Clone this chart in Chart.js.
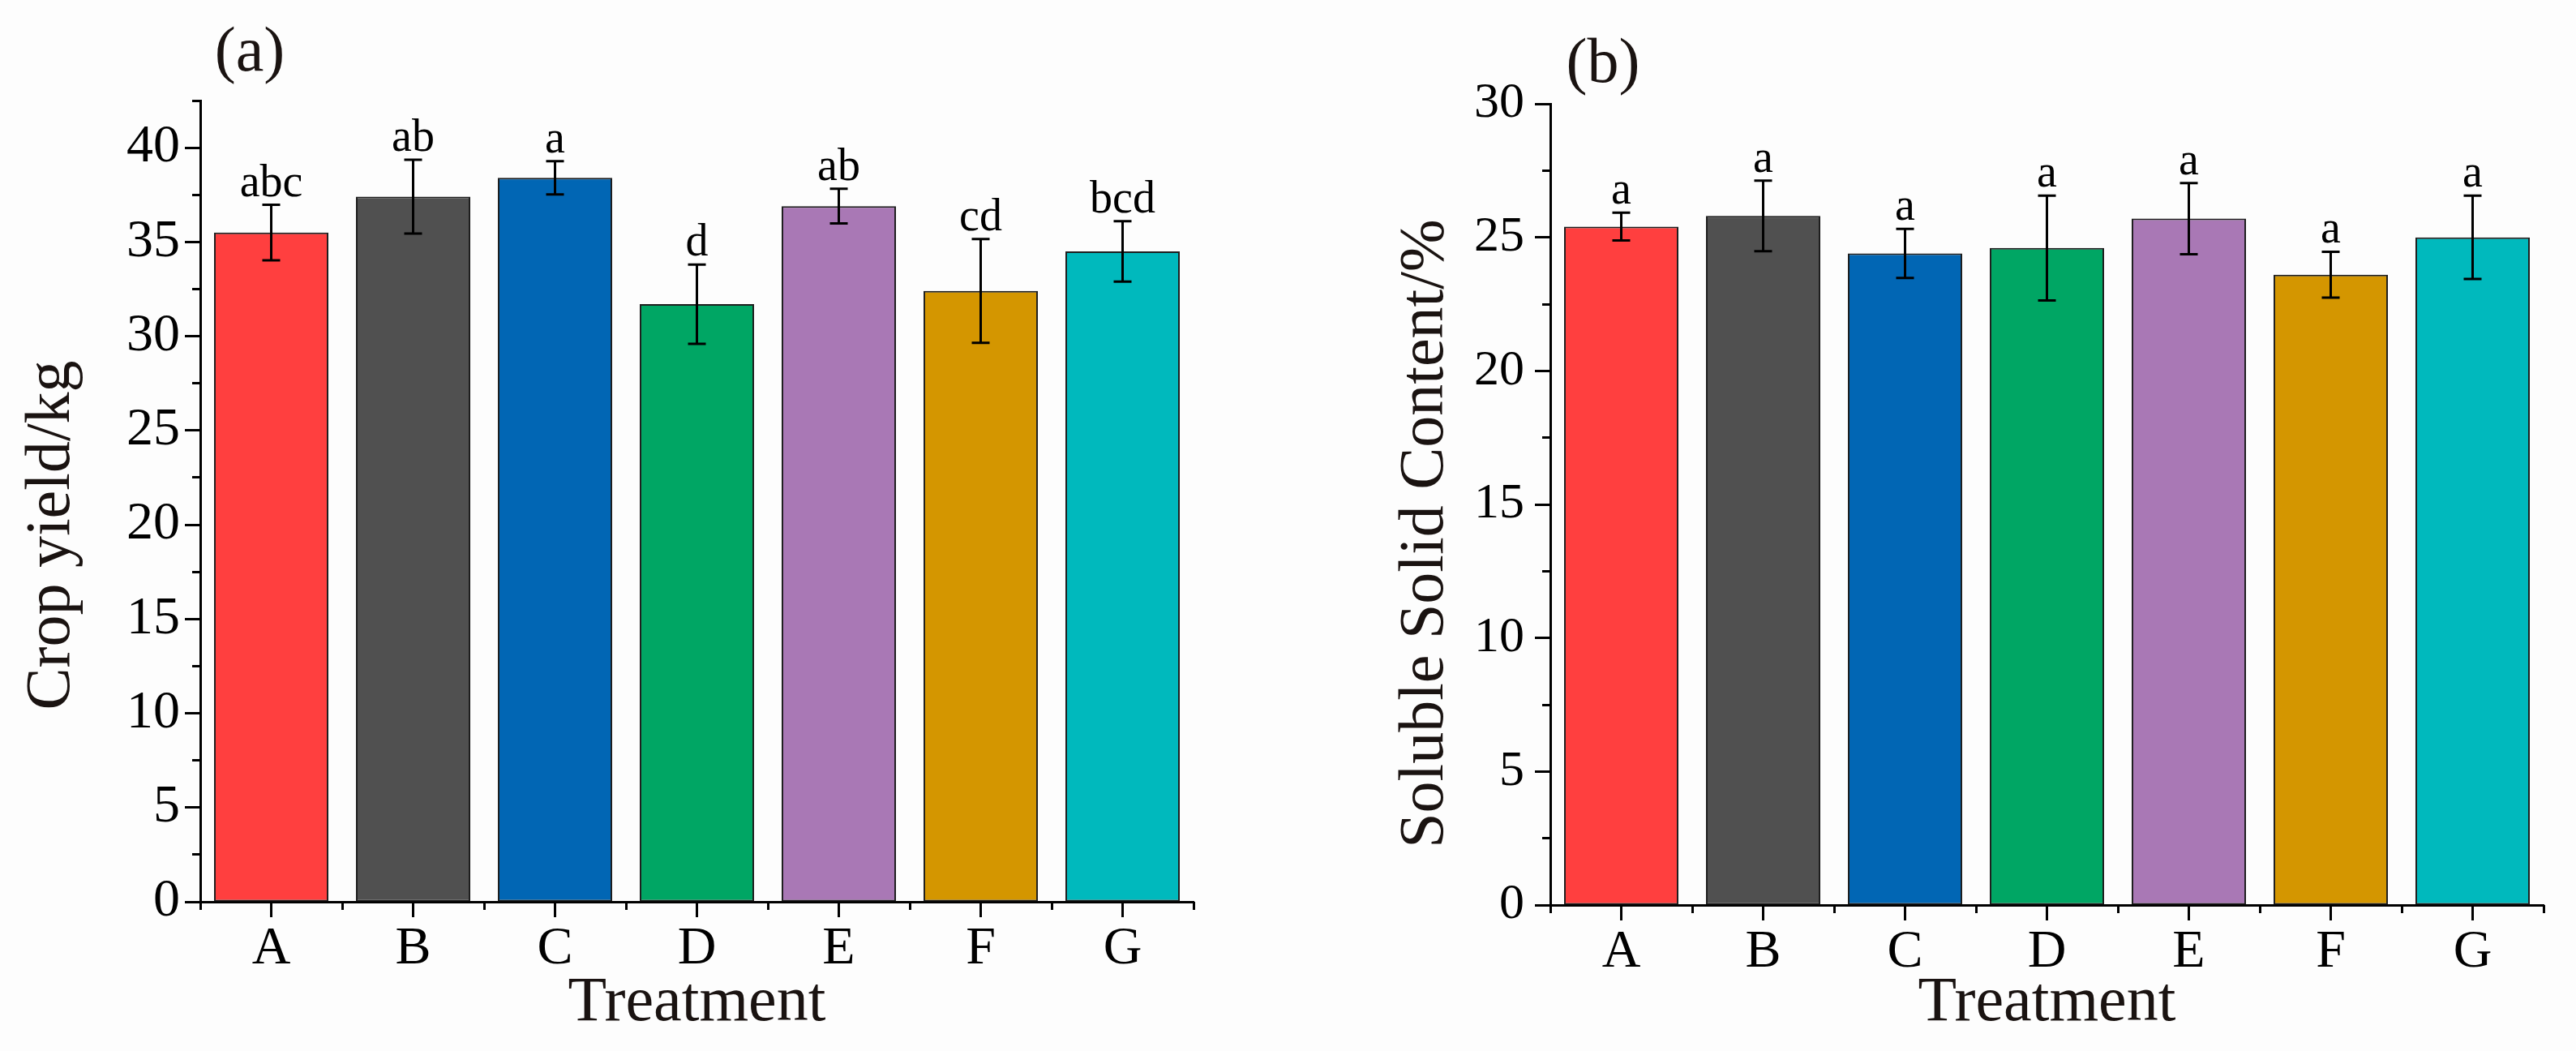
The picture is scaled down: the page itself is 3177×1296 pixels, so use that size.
<!DOCTYPE html>
<html>
<head>
<meta charset="utf-8">
<script src="https://cdn.jsdelivr.net/npm/chart.js@4.4.1/dist/chart.umd.min.js"></script>
<style>
  html, body { margin: 0; padding: 0; background: #fdfdfd; }
  #wrapA { position: absolute; left: 0; top: 0; }
  #wrapB { position: absolute; left: 1590px; top: 0; }
</style>
</head>
<body>
<div id="wrapA"><canvas id="chartA" width="1590" height="1296"></canvas></div>
<div id="wrapB"><canvas id="chartB" width="1587" height="1296"></canvas></div>
<script>
// data
const treatments = ["A", "B", "C", "D", "E", "F", "G"];
const barColors = ["#ff3f3f", "#505050", "#0166b4", "#00a664", "#a978b5", "#d49600", "#00b9bd"];

const yieldMeans   = [35.5, 37.4, 38.4, 31.7, 36.9, 32.4, 34.5];
const yieldErrors  = [1.47, 1.96, 0.88, 2.10, 0.92, 2.75, 1.60];
const yieldLetters = ["abc", "ab", "a", "d", "ab", "cd", "bcd"];

const sscMeans   = [25.4, 25.8, 24.4, 24.6, 25.7, 23.6, 25.0];
const sscErrors  = [0.52, 1.32, 0.92, 1.96, 1.33, 0.86, 1.56];
const sscLetters = ["a", "a", "a", "a", "a", "a", "a"];

const serif = '"Liberation Serif", "Times New Roman", serif';
const ink = "#1a1311";

// error bars, significance letters, panel tag and the y title
const errorBarPlugin = {
    id: "errorBars",
    afterDatasetsDraw(chart, args, opts) {
        const ctx = chart.ctx;
        const yScale = chart.scales.y;
        const meta = chart.getDatasetMeta(0);
        const area = chart.chartArea;
        ctx.save();
        ctx.strokeStyle = "#000";
        ctx.fillStyle = "#000";
        ctx.lineWidth = 3;
        ctx.font = "56px " + serif;
        ctx.textAlign = "center";
        ctx.textBaseline = "alphabetic";
        meta.data.forEach((bar, i) => {
            const yTop = yScale.getPixelForValue(opts.means[i] + opts.errors[i]);
            const yBot = yScale.getPixelForValue(opts.means[i] - opts.errors[i]);
            const x = bar.x;
            ctx.beginPath();
            ctx.moveTo(x, yTop); ctx.lineTo(x, yBot);
            ctx.moveTo(x - 11, yTop); ctx.lineTo(x + 11, yTop);
            ctx.moveTo(x - 11, yBot); ctx.lineTo(x + 11, yBot);
            ctx.stroke();
            ctx.fillText(opts.letters[i], x, yTop - 11);
        });
        ctx.fillStyle = ink;
        ctx.font = "78px " + serif;
        ctx.fillText(opts.tag, area.left + opts.tagDx, area.top - opts.tagDy);
        // rotated y title, sits a little below the axis middle like the original
        ctx.translate(area.left - opts.titleDx, (area.top + area.bottom) / 2 + opts.titleDy);
        ctx.rotate(-Math.PI / 2);
        ctx.fillText(opts.yTitle, 0, 0);
        ctx.restore();
    }
};

function makeChart(id, cfg) {
    const ctx = document.getElementById(id).getContext("2d");
    return new Chart(ctx, {
        type: "bar",
        data: {
            labels: treatments,
            datasets: [{
                data: cfg.means,
                backgroundColor: barColors,
                borderColor: "#1e1e1e",
                borderWidth: 2,
                borderSkipped: false,
                categoryPercentage: 1.0,
                barPercentage: 0.806
            }]
        },
        options: {
            responsive: false,
            animation: false,
            devicePixelRatio: 1,
            layout: { padding: cfg.padding },
            plugins: {
                legend: { display: false },
                tooltip: { enabled: false },
                errorBars: {
                    means: cfg.means, errors: cfg.errors, letters: cfg.letters,
                    tag: cfg.tag, tagDx: cfg.tagDx, tagDy: cfg.tagDy,
                    yTitle: cfg.yTitle, titleDx: cfg.titleDx, titleDy: cfg.titleDy
                }
            },
            scales: {
                x: {
                    position: "bottom",
                    weight: 1,
                    offset: true,
                    grid: { drawOnChartArea: false, offset: false, tickLength: 19, tickWidth: 3, tickColor: "#000" },
                    border: { display: true, color: "#000", width: 3 },
                    ticks: { color: "#000", font: { family: serif, size: 66 }, padding: 0, maxRotation: 0 },
                    title: { display: true, text: "Treatment", color: ink, font: { family: serif, size: 78 }, padding: { top: 0, bottom: 12 } },
                    afterFit: (s) => { s.height = cfg.xHeight; }
                },
                xMinor: {
                    type: "category",
                    position: "bottom",
                    weight: 0,
                    offset: true,
                    grid: { drawOnChartArea: false, offset: true, tickLength: 10, tickWidth: 3, tickColor: "#000" },
                    border: { display: false },
                    ticks: { display: false },
                    afterFit: (s) => { s.height = 0; }
                },
                y: {
                    position: "left",
                    weight: 1,
                    min: 0,
                    max: cfg.yMax,
                    grid: { drawOnChartArea: false, tickLength: 19, tickWidth: 3, tickColor: "#000" },
                    border: { display: true, color: "#000", width: 3 },
                    ticks: { stepSize: 5, includeBounds: false, color: "#000", font: { family: serif, size: cfg.yTickSize }, padding: cfg.yTickPad },
                    afterFit: (s) => { s.width = cfg.yWidth; }
                },
                yMinor: {
                    type: "linear",
                    position: "left",
                    weight: 0,
                    min: 0,
                    max: cfg.yMax,
                    grid: { drawOnChartArea: false, tickLength: 10, tickWidth: 3, tickColor: "#000" },
                    border: { display: false },
                    ticks: { stepSize: 2.5, display: false },
                    afterFit: (s) => { s.width = 0; }
                }
            }
        },
        plugins: [errorBarPlugin]
    });
}

makeChart("chartA", {
    means: yieldMeans, errors: yieldErrors, letters: yieldLetters,
    yMax: 42.5, yTitle: "Crop yield/kg", tag: "(a)", tagDx: 61, tagDy: 37,
    titleDx: 162, titleDy: 42,
    padding: { left: 0, top: 124, right: 118, bottom: 0 },
    yWidth: 247, xHeight: 184, yTickSize: 66, yTickPad: 6
});

makeChart("chartB", {
    means: sscMeans, errors: sscErrors, letters: sscLetters,
    yMax: 30, yTitle: "Soluble Solid Content/%", tag: "(b)", tagDx: 65, tagDy: 27,
    titleDx: 133, titleDy: 36,
    padding: { left: 0, top: 128, right: 40, bottom: 0 },
    yWidth: 322, xHeight: 180, yTickSize: 62, yTickPad: 13
});
</script>
</body>
</html>
